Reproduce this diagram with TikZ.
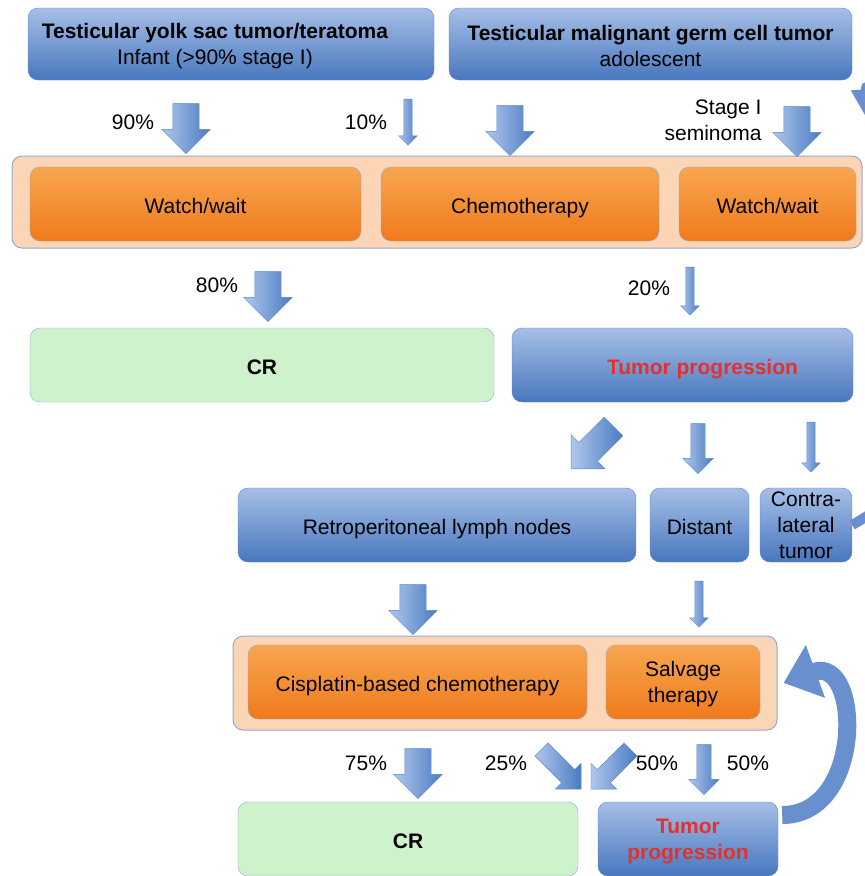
\documentclass[tikz,border=0pt]{standalone}
\usepackage{fontspec}
\setmainfont{Liberation Sans}
\usepackage{tikz}
\usetikzlibrary{arrows.meta,shapes.arrows}

\definecolor{boxtop}{HTML}{A6BFE7}
\definecolor{boxbot}{HTML}{4877BE}
\definecolor{boxline}{HTML}{5A86C6}
\definecolor{orgtop}{HTML}{F7A650}
\definecolor{orgbot}{HTML}{F07A1C}
\definecolor{orgline}{HTML}{93AAD2}
\definecolor{peach}{HTML}{FBD5B5}
\definecolor{crfill}{HTML}{CEF2CC}
\definecolor{tumred}{HTML}{E3312D}
\definecolor{arrtop}{HTML}{AFC7EC}
\definecolor{arrbot}{HTML}{4B7BC2}
\definecolor{bandblue}{HTML}{6890CF}

% taller first line, pushes two-line texts down a little
\newcommand{\tallline}{\rule{0pt}{20pt}}

\begin{document}
\begin{tikzpicture}[x=1pt, y=1pt, font=\fontsize{21}{26}\selectfont]

		\tikzstyle{bluebox}=[draw=boxline, rounded corners=10pt, top color=boxtop,
		bottom color=boxbot, align=center, inner sep=1pt]
		\tikzstyle{oneline}=[text height=19pt, text depth=1pt]
		\tikzstyle{orangebox}=[draw=orgline, rounded corners=10pt, top color=orgtop,
		bottom color=orgbot, align=center, minimum height=74pt]
		\tikzstyle{holder}=[draw=orgline, rounded corners=10pt, fill=peach, line width=1pt]
		\tikzstyle{crbox}=[draw=orgline, rounded corners=10pt, fill=crfill, minimum height=74pt]
		\tikzstyle{fatarrow}=[single arrow, draw=boxline, left color=arrtop, right color=arrbot,
		inner xsep=0pt, inner ysep=13pt, minimum height=50pt, single arrow head extend=11pt]
		\tikzstyle{midarrow}=[fatarrow, inner ysep=7pt, single arrow head extend=8pt]
		\tikzstyle{slimarrow}=[fatarrow, inner ysep=4pt, single arrow head extend=5pt]
		\tikzstyle{band}=[draw=bandblue, line width=10pt, line join=round]

		\useasboundingbox (0,0) rectangle (865,-876);
		\clip (0,0) rectangle (865,-876);

		% Presenting tumors
		\node[bluebox, minimum width=406pt, minimum height=72pt] (yolk) at (231,-44)
		{\tallline\textbf{Testicular yolk sac tumor/teratoma}\hspace*{32pt}\\Infant (>90\% stage I)\hspace*{32pt}};
		\node[bluebox, minimum width=403pt, minimum height=72pt] (germ) at (650.5,-44)
		{\tallline\textbf{Testicular malignant germ cell tumor}\\adolescent};

		% First treatment
		\node[holder, minimum width=850pt, minimum height=92pt] (first) at (437,-202) {};
		\node[orangebox, oneline, minimum width=331pt] (wait1) at (195.5,-204) {Watch/wait};
		\node[orangebox, oneline, minimum width=278pt] (chemo) at (520,-204) {Chemotherapy};
		\node[orangebox, oneline, minimum width=177pt] (wait2) at (767.5,-204) {Watch/wait};

		% Outcome of first treatment
		\node[crbox, oneline, minimum width=464pt] (cr1) at (262,-365) {\textbf{CR}};
		\node[bluebox, oneline, minimum width=341pt, minimum height=74pt, text=tumred] (prog1)
		at (682.5,-365) {\hspace*{40pt}\textbf{Tumor progression}};

		% Site of progression
		\node[bluebox, oneline, minimum width=398pt, minimum height=74pt] (retro) at (437,-525)
		{Retroperitoneal lymph nodes};
		\node[bluebox, oneline, minimum width=99pt, minimum height=74pt] (dist) at (699.5,-525) {Distant};
		\node[bluebox, minimum width=92pt, minimum height=74pt] (contra) at (806,-525)
		{Contra-\\lateral\\tumor};

		% Second treatment
		\node[holder, minimum width=544pt, minimum height=94pt] (second) at (505,-683) {};
		\node[orangebox, oneline, minimum width=339pt] (cis) at (417.5,-682) {Cisplatin-based chemotherapy};
		\node[orangebox, minimum width=154pt] (salv) at (683,-682) {\tallline Salvage\\therapy};

		% Outcome of second treatment
		\node[crbox, oneline, minimum width=340pt] (cr2) at (408,-839) {\textbf{CR}};
		\node[bluebox, minimum width=180pt, minimum height=74pt, text=tumred] (prog2)
		at (688,-839) {\tallline\textbf{Tumor}\\\textbf{progression}};

		% Block arrows
		\node[fatarrow, rotate=-90] (a90) at (186,-122) {};
		\node[slimarrow, rotate=-90, minimum height=46pt] (a10) at (408,-120) {};
		\node[fatarrow, rotate=-90] (ach) at (510,-124) {};
		\node[fatarrow, rotate=-90] (asem) at (797,-125) {};
		\node[fatarrow, rotate=-90] (a80) at (268,-290) {};
		\node[slimarrow, rotate=-90, minimum height=48pt] (a20) at (690,-289) {};
		\node[fatarrow, rotate=-135, minimum height=60pt] (aretro) at (597,-443) {};
		\node[midarrow, rotate=-90] (adist) at (698,-445) {};
		\node[slimarrow, rotate=-90] (acontra) at (811,-445) {};
		\node[fatarrow, rotate=-90] (acis) at (413,-603) {};
		\node[slimarrow, rotate=-90, minimum height=46pt] (asalv) at (699,-602) {};
		\node[fatarrow, rotate=-90] (a75) at (418,-767) {};
		\node[midarrow, rotate=-45, minimum height=56pt, inner ysep=9pt,
		single arrow head extend=9pt] (a25) at (558,-766) {};
		\node[midarrow, rotate=-135, minimum height=56pt, inner ysep=9pt,
		single arrow head extend=9pt] (a50l) at (614,-766) {};
		\node[midarrow, rotate=-90] (a50r) at (704,-766) {};

		% Percentages
		\node (p90) at (133,-122) {90\%};
		\node (p10) at (366,-122) {10\%};
		\node[anchor=east, align=right] (sem) at (765,-120) {Stage I\\seminoma};
		\node (p80) at (217,-285) {80\%};
		\node (p20) at (649,-288) {20\%};
		\node (p75) at (366,-763) {75\%};
		\node (p25) at (506,-763) {25\%};
		\node (p50l) at (657,-763) {50\%};
		\node (p50r) at (748,-763) {50\%};

		% Curved arrows
		\draw[band, -{Triangle[width=28pt,length=34pt]}] (contra.east) to[out=30, in=-90]
		(930,-420) -- (930,-150) to[out=90, in=0] (866,-87) -- (869,-123);
		\draw[band, line width=18pt, -{Triangle[width=54pt,length=34pt]}]
		([shift={(4,24)}]prog2.east) to[out=0, in=20, looseness=1.6] ([xshift=6]second.east);

\end{tikzpicture}
\end{document}
